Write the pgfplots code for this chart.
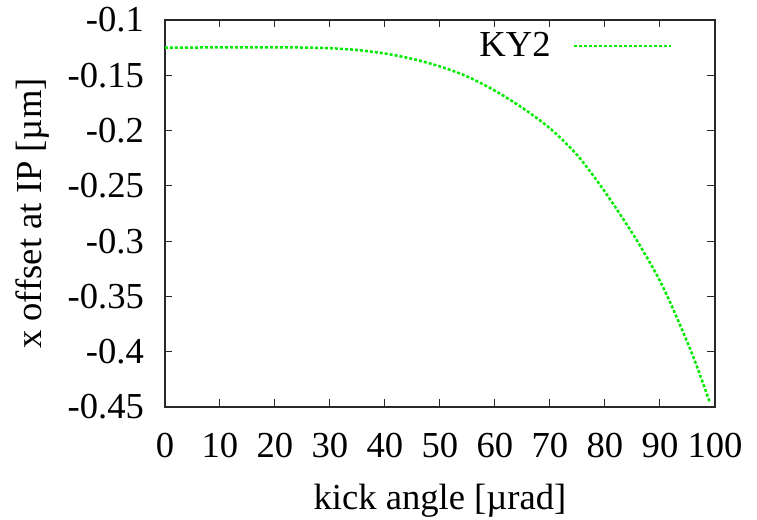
\documentclass[border=0pt]{standalone}
\usepackage{pgfplots}
\pgfplotsset{compat=1.18}
\usepackage{fontspec}
\setmainfont{Liberation Serif}
\definecolor{kygreen}{RGB}{0,235,0}
\definecolor{frame}{RGB}{40,40,40}
\begin{document}
\begin{tikzpicture}
\path[use as bounding box] (0,0) rectangle (378.5pt,260pt);
\begin{axis}[
  at={(82.5pt,56.5pt)}, anchor=south west,
  scale only axis, width=275pt, height=193.5pt,
  xmin=0, xmax=100, ymin=-0.45, ymax=-0.1,
  xtick={0,10,...,100},
  xticklabels={0,10,20,30,40,50,60,70,80,90,100},
  ytick={-0.45,-0.4,-0.35,-0.3,-0.25,-0.2,-0.15,-0.1},
  yticklabels={-0.45,-0.4,-0.35,-0.3,-0.25,-0.2,-0.15,-0.1},
  tick align=inside, tick pos=both,
  major tick length=3.75pt,
  every tick/.style={frame, line width=0.5pt},
  axis line style={frame, line width=0.9pt},
  tick label style={font=\fontsize{18.3}{22}\selectfont},
  xticklabel style={yshift=-9.5pt},
  yticklabel style={xshift=-7pt},
  xlabel={kick angle [µrad]},
  ylabel={x offset at IP [µm]},
  label style={font=\fontsize{18.3}{22}\selectfont},
  xlabel style={at={(axis description cs:0.5,0)}, anchor=base, yshift=-51.5pt},
  ylabel style={at={(axis description cs:0,0.5)}, anchor=base, yshift=61.5pt},
  legend plot pos=right,
  legend cell align=right,
  legend image code/.code={\path (0pt,0pt); \draw[#1] (9pt,0pt) -- (57.5pt,0pt);},
  legend style={draw=none, fill=none, inner sep=0pt, outer sep=0pt,
    font=\fontsize{18.3}{22}\selectfont,
    at={(axis cs:92.2,-0.1235)}, anchor=east},
]
\addplot[kygreen, line width=1.25pt, dash pattern=on 1.5pt off 1pt, smooth] table {
x y
0 -0.1250
5 -0.1249
10 -0.1248
15 -0.1247
20 -0.1247
25 -0.1249
30 -0.1255
35 -0.1272
40 -0.1303
45 -0.1352
50 -0.1420
55 -0.1512
60 -0.1640
65 -0.1795
70 -0.1980
75 -0.2225
80 -0.2555
85 -0.2930
88 -0.3180
90 -0.3360
92 -0.3570
94 -0.3800
96 -0.4040
98 -0.4310
99.1 -0.4465
};
\addlegendentry{KY2}
\end{axis}
\end{tikzpicture}
\end{document}
